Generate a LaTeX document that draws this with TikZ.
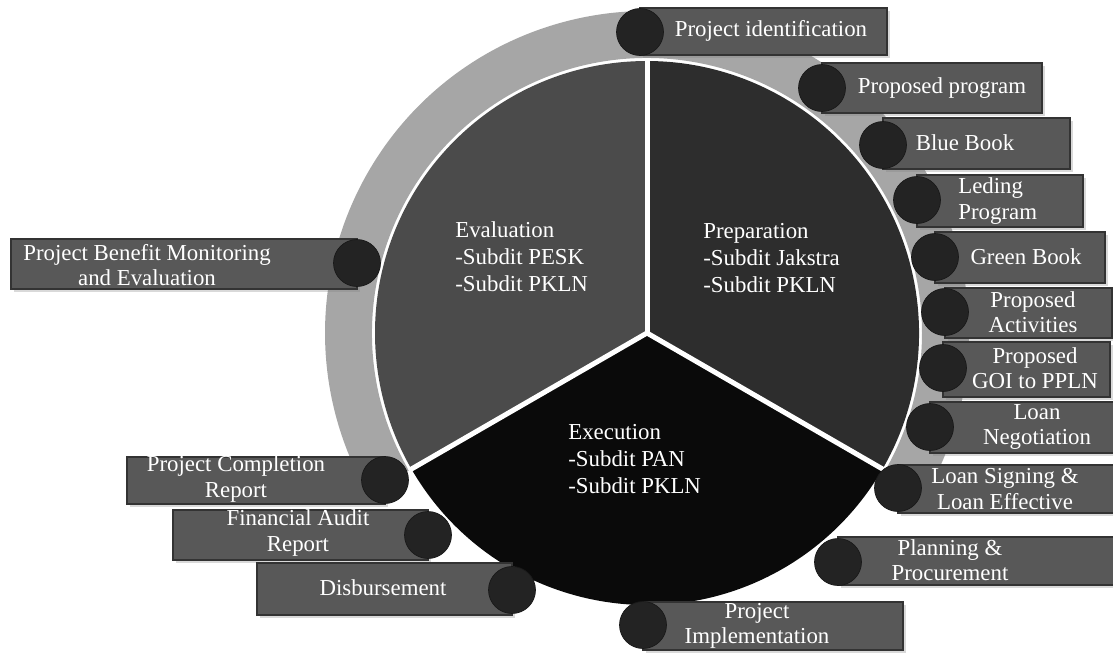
\documentclass[tikz,border=0pt]{standalone}
\usepackage{fontspec}
\setmainfont{Liberation Serif}
\usepackage{tikz}
\usetikzlibrary{calc,shadows}

\definecolor{ringgray}{HTML}{A6A6A6}
\definecolor{evalgray}{HTML}{4B4B4B}
\definecolor{prepgray}{HTML}{2D2D2D}
\definecolor{execgray}{HTML}{0A0A0A}
\definecolor{tabgray}{HTML}{585858}
\definecolor{dotgray}{HTML}{232323}

\tikzset{
  tab/.style={fill=tabgray, draw=black!80, line width=0.6pt,
    drop shadow={opacity=0.3, shadow xshift=1.5pt, shadow yshift=-1.5pt}},
  dot/.style={circle, fill=dotgray, draw=black!90, minimum size=0.94cm, inner sep=0pt},
  tabtext/.style={text=white, align=center, inner sep=0pt,
    font=\fontsize{13}{14.5}\selectfont},
  slicetext/.style={text=white, align=left, inner sep=0pt, anchor=west,
    font=\fontsize{13}{15.3}\selectfont},
  divider/.style={white, line width=0.1cm}
}

\begin{document}
\begin{tikzpicture}[x=0.02cm, y=0.02cm]
\useasboundingbox (0,0) rectangle (1113,-654);
\coordinate (c) at (647,-333);

% ring and pie
\fill[ringgray] ($(c)+(-30:322)$) arc (-30:210:322) -- ($(c)+(210:275)$) arc (210:-30:275) -- cycle;
\fill[prepgray] (c) -- ($(c)+(-30:272)$) arc (-30:90:272) -- cycle;
\fill[evalgray] (c) -- ($(c)+(90:272)$) arc (90:210:272) -- cycle;
\fill[execgray] (c) -- ($(c)+(210:272)$) arc (210:330:272) -- cycle;
\draw[divider] (c) -- ($(c)+(90:275)$);
\draw[divider] (c) -- ($(c)+(-30:275)$);
\draw[divider] (c) -- ($(c)+(210:275)$);

\node[slicetext] (eval) at (455,-257) {Evaluation\\-Subdit PESK\\-Subdit PKLN};
\node[slicetext] (prep) at (703,-258) {Preparation\\-Subdit Jakstra\\-Subdit PKLN};
\node[slicetext] (exec) at (568,-459) {Execution\\-Subdit PAN\\-Subdit PKLN};

% tabs on the right
\draw[tab] (640,-8) rectangle (887,-55);
\draw[tab] (822,-63) rectangle (1042,-113);
\draw[tab] (883,-118) rectangle (1070,-169);
\draw[tab] (917,-175) rectangle (1083,-227);
\draw[tab] (935,-232) rectangle (1105,-283);
\draw[tab] (945,-288) rectangle (1112,-338);
\draw[tab] (943,-342) rectangle (1110,-397);
\draw[tab] (930,-402) rectangle (1120,-453);
\draw[tab] (898,-465) rectangle (1120,-513);
\draw[tab] (838,-537) rectangle (1120,-585);
\draw[tab] (643,-602) rectangle (903,-650);

% tabs on the left
\draw[tab] (11,-239) rectangle (357,-289);
\draw[tab] (127,-457) rectangle (385,-504);
\draw[tab] (173,-510) rectangle (428,-560);
\draw[tab] (257,-563) rectangle (512,-615);

\node[dot] (pidd) at (640,-32) {};
\node[dot] (pprd) at (822,-88) {};
\node[dot] (bbkd) at (883,-145) {};
\node[dot] (ldpd) at (917,-200) {};
\node[dot] (gbkd) at (935,-257) {};
\node[dot] (pacd) at (945,-312) {};
\node[dot] (pgod) at (943,-368) {};
\node[dot] (lngd) at (930,-427) {};
\node[dot] (lsgd) at (898,-488) {};
\node[dot] (plpd) at (838,-562) {};
\node[dot] (pimd) at (643,-625) {};
\node[dot] (pbmd) at (357,-263) {};
\node[dot] (pcrd) at (385,-480) {};
\node[dot] (fard) at (428,-535) {};
\node[dot] (dsbd) at (512,-590) {};

\node[tabtext] (pid) at (771,-31) {Project identification};
\node[tabtext] (ppr) at (942,-88) {Proposed program};
\node[tabtext] (bbk) at (965,-143) {Blue Book};
\node[tabtext, align=left, anchor=west] (ldp) at (958,-201) {Leding\\Program};
\node[tabtext] (gbk) at (1026,-257) {Green Book};
\node[tabtext] (pac) at (1033,-312) {Proposed\\Activities};
\node[tabtext] (pgo) at (1035,-368) {Proposed\\GOI to PPLN};
\node[tabtext] (lng) at (1037,-427) {Loan\\Negotiation};
\node[tabtext] (lsg) at (1005,-489) {Loan Signing \&\\Loan Effective};
\node[tabtext] (plp) at (950,-560) {Planning \&\\Procurement};
\node[tabtext] (pim) at (757,-626) {Project\\Implementation};
\node[tabtext] (pbm) at (147,-265) {Project Benefit Monitoring\\and Evaluation};
\node[tabtext] (pcr) at (236,-479) {Project Completion\\Report};
\node[tabtext] (far) at (298,-533) {Financial Audit\\Report};
\node[tabtext] (dsb) at (383,-588) {Disbursement};

\end{tikzpicture}
\end{document}
